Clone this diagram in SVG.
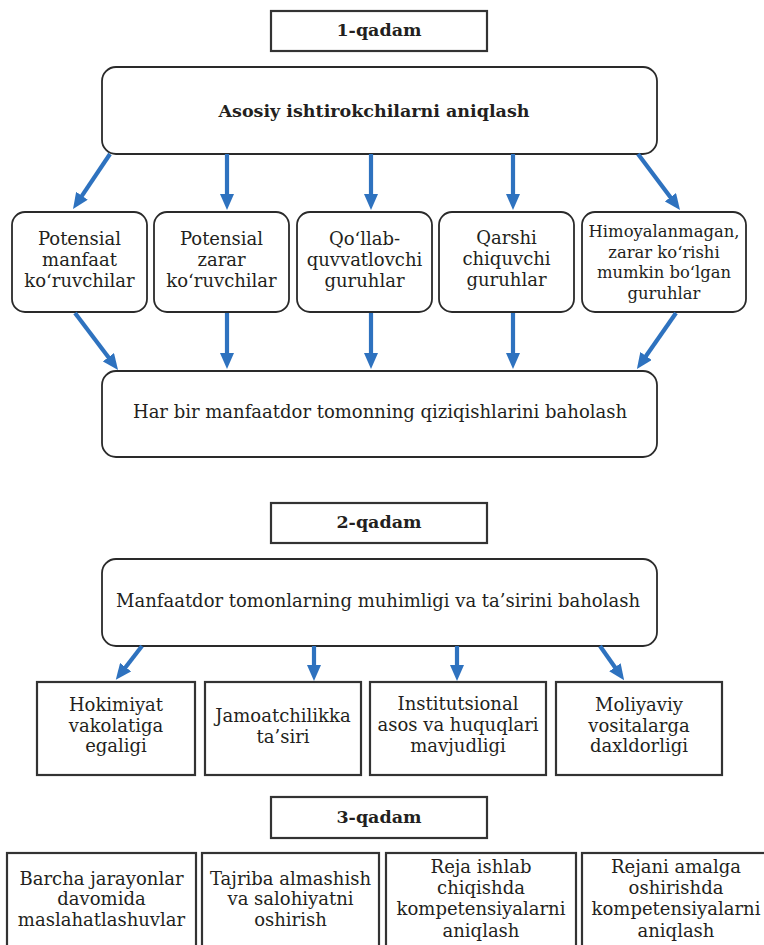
<svg xmlns="http://www.w3.org/2000/svg" width="764" height="945" viewBox="0 0 764 945">
  <style>
    .bg { fill: #ffffff; }
    .box { fill: #ffffff; stroke: #2a2a2a; stroke-width: 1.8; }
    .sq { fill: #ffffff; stroke: #333333; stroke-width: 2.2; }
    .t { font-family: "DejaVu Serif", "Liberation Serif", serif; font-size: 18px; fill: #231f20; text-anchor: middle; }
    .b { font-weight: bold; font-size: 17.5px; }
    .s { font-size: 16.4px; }
    .arr { fill: none; stroke: #2e72bf; stroke-width: 4.2; }
  </style>
  <defs>
    <marker id="head" viewBox="0 0 16 14" refX="1" refY="7" markerWidth="16" markerHeight="14" markerUnits="userSpaceOnUse" orient="auto">
      <path d="M0,0 L16,7 L0,14 z" fill="#2e72bf"/>
    </marker>
  </defs>
  <rect class="bg" x="0" y="0" width="764" height="945"/>

  <!-- Step 1 -->
  <g id="step1-label">
    <rect class="sq" x="271" y="11" width="216" height="40"/>
    <text class="t b" x="379" y="36">1-qadam</text>
  </g>
  <g id="identify">
    <rect class="box" x="102" y="67" width="555" height="87" rx="14"/>
    <text class="t b" x="374" y="117">Asosiy ishtirokchilarni aniqlash</text>
  </g>
  <g id="g-benefit">
    <rect class="box" x="12" y="212" width="135" height="100" rx="13"/>
    <text class="t" x="79.5" y="245">Potensial</text>
    <text class="t" x="79.5" y="266">manfaat</text>
    <text class="t" x="79.5" y="287">ko‘ruvchilar</text>
  </g>
  <g id="g-harm">
    <rect class="box" x="154" y="212" width="135" height="100" rx="13"/>
    <text class="t" x="221.5" y="245">Potensial</text>
    <text class="t" x="221.5" y="266">zarar</text>
    <text class="t" x="221.5" y="287">ko‘ruvchilar</text>
  </g>
  <g id="g-support">
    <rect class="box" x="297" y="212" width="135" height="100" rx="13"/>
    <text class="t" x="364.5" y="245">Qo‘llab-</text>
    <text class="t" x="364.5" y="266">quvvatlovchi</text>
    <text class="t" x="364.5" y="287">guruhlar</text>
  </g>
  <g id="g-oppose">
    <rect class="box" x="439" y="212" width="135" height="100" rx="13"/>
    <text class="t" x="506.5" y="244">Qarshi</text>
    <text class="t" x="506.5" y="265">chiquvchi</text>
    <text class="t" x="506.5" y="286">guruhlar</text>
  </g>
  <g id="g-vulnerable">
    <rect class="box" x="582" y="212" width="164" height="100" rx="13"/>
    <text class="t s" x="664" y="237">Himoyalanmagan,</text>
    <text class="t s" x="664" y="257.5">zarar ko‘rishi</text>
    <text class="t s" x="664" y="278">mumkin bo‘lgan</text>
    <text class="t s" x="664" y="298.5">guruhlar</text>
  </g>
  <g id="interests">
    <rect class="box" x="102" y="371" width="555" height="86" rx="14"/>
    <text class="t" x="380" y="418">Har bir manfaatdor tomonning qiziqishlarini baholash</text>
  </g>

  <!-- Step 2 -->
  <g id="step2-label">
    <rect class="sq" x="271" y="503" width="216" height="40"/>
    <text class="t b" x="379" y="528">2-qadam</text>
  </g>
  <g id="importance">
    <rect class="box" x="102" y="559" width="555" height="87" rx="14"/>
    <text class="t" x="378" y="607">Manfaatdor tomonlarning muhimligi va ta’sirini baholash</text>
  </g>
  <g id="c-power">
    <rect class="sq" x="37" y="682" width="158" height="93"/>
    <text class="t" x="116" y="711">Hokimiyat</text>
    <text class="t" x="116" y="732">vakolatiga</text>
    <text class="t" x="116" y="752">egaligi</text>
  </g>
  <g id="c-public">
    <rect class="sq" x="205" y="682" width="156" height="93"/>
    <text class="t" x="283" y="722">Jamoatchilikka</text>
    <text class="t" x="283" y="743">ta’siri</text>
  </g>
  <g id="c-legal">
    <rect class="sq" x="370" y="682" width="176" height="93"/>
    <text class="t" x="458" y="710">Institutsional</text>
    <text class="t" x="458" y="731">asos va huquqlari</text>
    <text class="t" x="458" y="752">mavjudligi</text>
  </g>
  <g id="c-finance">
    <rect class="sq" x="556" y="682" width="166" height="93"/>
    <text class="t" x="639" y="711">Moliyaviy</text>
    <text class="t" x="639" y="732">vositalarga</text>
    <text class="t" x="639" y="752">daxldorligi</text>
  </g>

  <!-- Step 3 -->
  <g id="step3-label">
    <rect class="sq" x="271" y="797" width="216" height="41"/>
    <text class="t b" x="379" y="823">3-qadam</text>
  </g>
  <g id="d-consult">
    <rect class="sq" x="7" y="853" width="189" height="100"/>
    <text class="t" x="101.5" y="885">Barcha jarayonlar</text>
    <text class="t" x="101.5" y="905">davomida</text>
    <text class="t" x="101.5" y="926">maslahatlashuvlar</text>
  </g>
  <g id="d-capacity">
    <rect class="sq" x="202" y="853" width="177" height="100"/>
    <text class="t" x="290.5" y="885">Tajriba almashish</text>
    <text class="t" x="290.5" y="905">va salohiyatni</text>
    <text class="t" x="290.5" y="926">oshirish</text>
  </g>
  <g id="d-plan">
    <rect class="sq" x="386" y="853" width="190" height="100"/>
    <text class="t" x="481" y="873">Reja ishlab</text>
    <text class="t" x="481" y="894">chiqishda</text>
    <text class="t" x="481" y="915">kompetensiyalarni</text>
    <text class="t" x="481" y="937">aniqlash</text>
  </g>
  <g id="d-implement">
    <rect class="sq" x="582" y="853" width="190" height="100"/>
    <text class="t" x="676" y="873">Rejani amalga</text>
    <text class="t" x="676" y="894">oshirishda</text>
    <text class="t" x="676" y="915">kompetensiyalarni</text>
    <text class="t" x="676" y="937">aniqlash</text>
  </g>

  <!-- Connectors -->
  <g id="connectors" class="arr">
    <path d="M110,154 L81.4,196.6" marker-end="url(#head)"/>
    <path d="M227,154 V195" marker-end="url(#head)"/>
    <path d="M371,154 V195" marker-end="url(#head)"/>
    <path d="M513,154 V195" marker-end="url(#head)"/>
    <path d="M638,154 L671,198" marker-end="url(#head)"/>

    <path d="M75,313 L109,358" marker-end="url(#head)"/>
    <path d="M227,313 V354" marker-end="url(#head)"/>
    <path d="M371,313 V354" marker-end="url(#head)"/>
    <path d="M513,313 V354" marker-end="url(#head)"/>
    <path d="M676,313 L645.5,356.8" marker-end="url(#head)"/>

    <path d="M142,646 L125,668" marker-end="url(#head)"/>
    <path d="M314,646 V666" marker-end="url(#head)"/>
    <path d="M457,646 V666" marker-end="url(#head)"/>
    <path d="M600,646 L615.5,668" marker-end="url(#head)"/>
  </g>
</svg>
